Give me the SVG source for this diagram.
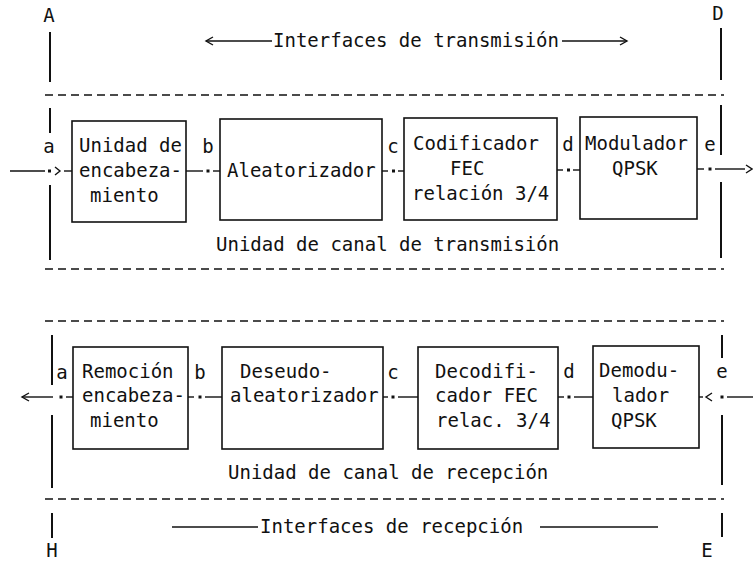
<svg xmlns="http://www.w3.org/2000/svg" width="753" height="561" viewBox="0 0 753 561">
<defs>
<style>
text{font-family:"DejaVu Sans Mono","Liberation Mono",monospace;font-size:19px;fill:#111}
.box{fill:#fff;stroke:#111;stroke-width:1.6}
.dash{stroke:#111;stroke-width:1.6;stroke-dasharray:8 5;fill:none}
.vl{stroke:#111;stroke-width:2;fill:none}
.ln{stroke:#111;stroke-width:1.4;fill:none}
.dot{fill:#111}
</style>
<marker id="chev" viewBox="-8 -5 10 10" markerWidth="10" markerHeight="10" refX="0" refY="0" orient="auto" markerUnits="userSpaceOnUse">
<path d="M-7,-4 L0,0 L-7,4" fill="none" stroke="#111" stroke-width="1.4"/>
</marker>
</defs>
<rect width="753" height="561" fill="#fff"/>

<g id="frame">
<line class="dash" x1="45" y1="95" x2="724" y2="95"/>
<line class="dash" x1="45" y1="269" x2="724" y2="269"/>
<line class="dash" x1="45" y1="321" x2="724" y2="321"/>
<line class="dash" x1="45" y1="499" x2="724" y2="499"/>
<text x="49" y="22" text-anchor="middle">A</text>
<text x="718" y="20" text-anchor="middle">D</text>
<text x="52" y="557" text-anchor="middle">H</text>
<text x="707" y="557" text-anchor="middle">E</text>
<line class="vl" x1="50" y1="32" x2="50" y2="82"/>
<line class="vl" x1="50" y1="108" x2="50" y2="133"/>
<line class="vl" x1="50" y1="185" x2="50" y2="260"/>
<line class="vl" x1="721" y1="28" x2="721" y2="80"/>
<line class="vl" x1="721" y1="105" x2="721" y2="155"/>
<line class="vl" x1="721" y1="182" x2="721" y2="258"/>
<line class="vl" x1="52" y1="335" x2="52" y2="385"/>
<line class="vl" x1="52" y1="415" x2="52" y2="488"/>
<line class="vl" x1="52" y1="513" x2="52" y2="538"/>
<line class="vl" x1="722" y1="335" x2="722" y2="358"/>
<line class="vl" x1="722" y1="415" x2="722" y2="485"/>
<line class="vl" x1="722" y1="513" x2="722" y2="537"/>
<text x="273" y="47">Interfaces de transmisión</text>
<text x="216" y="251">Unidad de canal de transmisión</text>
<text x="228" y="479">Unidad de canal de recepción</text>
<text x="260" y="533">Interfaces de recepción</text>
<line class="ln" x1="172" y1="527" x2="258" y2="527"/>
<line class="ln" x1="540" y1="527" x2="658" y2="527"/>
</g>

<g id="connectors">
<line class="ln" x1="272" y1="41" x2="206" y2="41" marker-end="url(#chev)"/>
<line class="ln" x1="562" y1="41" x2="627" y2="41" marker-end="url(#chev)"/>
<!-- top row -->
<line class="ln" x1="10" y1="171" x2="45" y2="171"/>
<rect class="dot" x="48" y="169.5" width="3" height="3"/>
<path class="ln" d="M55,167 L60,171 L55,175"/>
<line class="ln" x1="64" y1="171" x2="72" y2="171"/>
<line class="ln" x1="186" y1="171" x2="203" y2="171"/>
<rect class="dot" x="206.5" y="169.5" width="3" height="3"/>
<line class="ln" x1="213" y1="171" x2="220" y2="171"/>
<line class="ln" x1="382" y1="171" x2="388" y2="171"/>
<rect class="dot" x="392" y="169.5" width="3" height="3"/>
<line class="ln" x1="398" y1="171" x2="404" y2="171"/>
<line class="ln" x1="557" y1="170" x2="563" y2="170"/>
<rect class="dot" x="567" y="168.5" width="3" height="3"/>
<line class="ln" x1="573" y1="170" x2="580" y2="170"/>
<line class="ln" x1="697" y1="169" x2="704" y2="169"/>
<rect class="dot" x="708.5" y="167.5" width="3" height="3"/>
<line class="ln" x1="715" y1="169" x2="745" y2="169"/>
<path class="ln" d="M746,165 L752,169 L746,173"/>
<!-- bottom row -->
<line class="ln" x1="53" y1="397" x2="22" y2="397" marker-end="url(#chev)"/>
<rect class="dot" x="59.5" y="395.5" width="3" height="3"/>
<line class="ln" x1="66" y1="397" x2="73" y2="397"/>
<line class="ln" x1="188" y1="397" x2="194" y2="397"/>
<rect class="dot" x="198.5" y="395.5" width="3" height="3"/>
<line class="ln" x1="205" y1="397" x2="222" y2="397"/>
<line class="ln" x1="383" y1="397" x2="388" y2="397"/>
<rect class="dot" x="391.5" y="395.5" width="3" height="3"/>
<line class="ln" x1="398" y1="397" x2="418" y2="397"/>
<line class="ln" x1="558" y1="397" x2="564" y2="397"/>
<rect class="dot" x="567.5" y="395.5" width="3" height="3"/>
<line class="ln" x1="574" y1="397" x2="593" y2="397"/>
<line class="ln" x1="699" y1="397" x2="703" y2="397"/>
<path class="ln" d="M712,393 L706,397 L712,401"/>
<rect class="dot" x="720.5" y="395.5" width="3" height="3"/>
<line class="ln" x1="727" y1="397" x2="753" y2="397"/>
<text x="49" y="153" text-anchor="middle">a</text>
<text x="208" y="153" text-anchor="middle">b</text>
<text x="393" y="153" text-anchor="middle">c</text>
<text x="568" y="151" text-anchor="middle">d</text>
<text x="710" y="151" text-anchor="middle">e</text>
<text x="62" y="379" text-anchor="middle">a</text>
<text x="200" y="379" text-anchor="middle">b</text>
<text x="393" y="379" text-anchor="middle">c</text>
<text x="569" y="378" text-anchor="middle">d</text>
<text x="722" y="378" text-anchor="middle">e</text>
</g>

<g id="tx1"><rect class="box" x="72" y="121" width="114" height="101"/>
<text x="79" y="152">Unidad de</text><text x="79" y="177">encabeza-</text><text x="90" y="202">miento</text></g>
<g id="tx2"><rect class="box" x="220" y="119" width="162" height="101"/>
<text x="227" y="177">Aleatorizador</text></g>
<g id="tx3"><rect class="box" x="404" y="118" width="153" height="102"/>
<text x="413" y="150">Codificador</text><text x="450" y="175">FEC</text><text x="412" y="200">relación 3/4</text></g>
<g id="tx4"><rect class="box" x="580" y="117" width="117" height="102"/>
<text x="585" y="150">Modulador</text><text x="612" y="175">QPSK</text></g>

<g id="rx1"><rect class="box" x="73" y="347" width="115" height="102"/>
<text x="82" y="378">Remoción</text><text x="82" y="402">encabeza-</text><text x="90" y="427">miento</text></g>
<g id="rx2"><rect class="box" x="222" y="347" width="161" height="102"/>
<text x="240" y="378">Deseudo-</text><text x="230" y="402">aleatorizador</text></g>
<g id="rx3"><rect class="box" x="418" y="347" width="140" height="102"/>
<text x="435" y="378">Decodifi-</text><text x="435" y="402">cador FEC</text><text x="436" y="427">relac. 3/4</text></g>
<g id="rx4"><rect class="box" x="593" y="346" width="106" height="102"/>
<text x="599" y="377">Demodu-</text><text x="612" y="402">lador</text><text x="611" y="427">QPSK</text></g>
</svg>
